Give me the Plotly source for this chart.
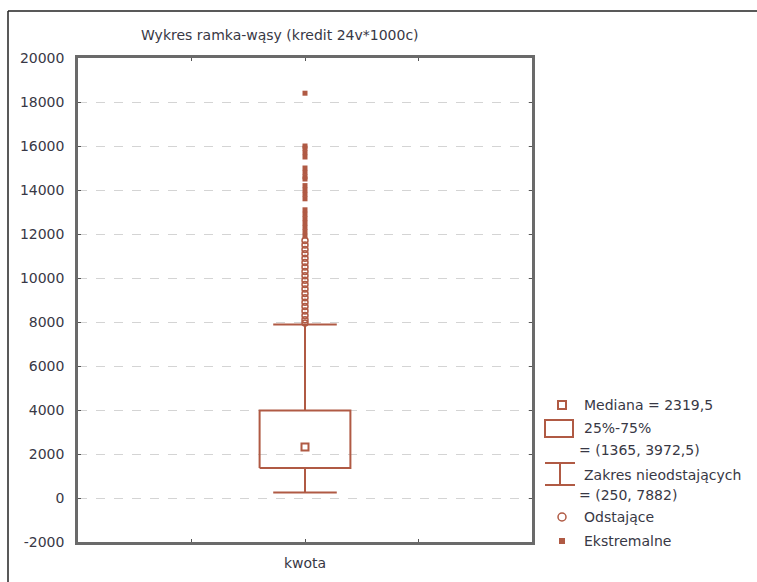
import plotly.graph_objects as go

# ---- data ----
category = ["kwota"]
median = [2319.5]
q1 = [1365]
q3 = [3972.5]
whisker_low = [250]
whisker_high = [7882]
outliers = [7950, 8100, 8300, 8500, 8700, 8900, 9100, 9300, 9500, 9700,
            9900, 10100, 10300, 10500, 10700, 10900, 11100, 11300, 11500, 11700]
extremes = [11900, 12100, 12300, 12500, 12700, 12900, 13100, 13600, 13800,
            14000, 14200, 14500, 14600, 14800, 15000, 15500, 15700, 15900,
            16000, 18400]
y_ticks = [-2000, 0, 2000, 4000, 6000, 8000, 10000, 12000, 14000, 16000, 18000, 20000]
y_tick_labels = ["-2000", "0", "2000", "4000", "6000", "8000", "10000", "12000",
                 "14000", "16000", "18000", "20000"]
title_text = "Wykres ramka-wąsy (kredit 24v*1000c)"
legend_texts = ["Mediana = 2319,5", "25%-75%", "= (1365, 3972,5)",
                "Zakres nieodstających", "= (250, 7882)", "Odstające", "Ekstremalne"]

C = "#b05a44"
TXT = "#383845"
FONT = "DejaVu Sans, Verdana, sans-serif"
xc = 1.0
bw = 0.2
cw = 0.14

fig = go.Figure()
# box rectangle
fig.add_trace(go.Scatter(x=[xc - bw, xc + bw, xc + bw, xc - bw, xc - bw],
                         y=[q1[0], q1[0], q3[0], q3[0], q1[0]],
                         mode="lines", line=dict(color=C, width=2), hoverinfo="skip"))
# whiskers
fig.add_trace(go.Scatter(x=[xc, xc, None, xc, xc, None,
                            xc - cw, xc + cw, None, xc - cw, xc + cw],
                         y=[q3[0], whisker_high[0], None, q1[0], whisker_low[0], None,
                            whisker_high[0], whisker_high[0], None, whisker_low[0], whisker_low[0]],
                         mode="lines", line=dict(color=C, width=2), hoverinfo="skip"))
# median
fig.add_trace(go.Scatter(x=[xc], y=median, mode="markers",
                         marker=dict(symbol="square-open", size=7, color=C, line=dict(width=2))))
# outliers
fig.add_trace(go.Scatter(x=[xc] * len(outliers), y=outliers, mode="markers",
                         marker=dict(symbol="circle-open", size=6, color=C, line=dict(width=1.5))))
# extremes
fig.add_trace(go.Scatter(x=[xc] * len(extremes), y=extremes, mode="markers",
                         marker=dict(symbol="square", size=5, color=C)))

L, R, T, B = 78, 225, 58, 40
PW, PH = 757 - L - R, 582 - T - B


def px(x):
    return (x - L) / PW


def py(y):
    return (582 - B - y) / PH


shapes = []
# outer frame (top and left)
shapes.append(dict(type="line", xref="paper", yref="paper", x0=px(8), x1=px(760),
                   y0=py(11), y1=py(11), line=dict(color="#222", width=1.5)))
shapes.append(dict(type="line", xref="paper", yref="paper", x0=px(8), x1=px(8),
                   y0=py(11), y1=py(590), line=dict(color="#222", width=1.5)))

# legend symbols
shapes.append(dict(type="rect", xref="paper", yref="paper", x0=px(558), x1=px(566),
                   y0=py(401), y1=py(409), line=dict(color=C, width=2)))
shapes.append(dict(type="rect", xref="paper", yref="paper", x0=px(545), x1=px(573),
                   y0=py(420), y1=py(437), line=dict(color=C, width=2)))
shapes.append(dict(type="line", xref="paper", yref="paper", x0=px(545), x1=px(575),
                   y0=py(463), y1=py(463), line=dict(color=C, width=2)))
shapes.append(dict(type="line", xref="paper", yref="paper", x0=px(545), x1=px(575),
                   y0=py(485), y1=py(485), line=dict(color=C, width=2)))
shapes.append(dict(type="line", xref="paper", yref="paper", x0=px(560), x1=px(560),
                   y0=py(463), y1=py(485), line=dict(color=C, width=2)))
shapes.append(dict(type="circle", xref="paper", yref="paper", x0=px(558), x1=px(566),
                   y0=py(513), y1=py(521), line=dict(color=C, width=1.5)))
shapes.append(dict(type="rect", xref="paper", yref="paper", x0=px(559), x1=px(565),
                   y0=py(538), y1=py(544), fillcolor=C, line=dict(color=C, width=0)))

annotations = [dict(text=title_text, xref="paper", yref="paper", x=px(280), y=py(35),
                    showarrow=False, xanchor="center", yanchor="middle",
                    font=dict(size=14, color=TXT, family=FONT))]
leg_pos = [(582, 405), (582, 428), (577, 450), (582, 475), (577, 495), (582, 517), (582, 541)]
for t, (x, y) in zip(legend_texts, leg_pos):
    annotations.append(dict(text=t, xref="paper", yref="paper", x=px(x), y=py(y),
                            showarrow=False, xanchor="left", yanchor="middle",
                            font=dict(size=14, color=TXT, family=FONT)))

fig.update_layout(
    width=757, height=582,
    margin=dict(l=L, r=R, t=T, b=B, pad=0),
    paper_bgcolor="white", plot_bgcolor="white",
    showlegend=False,
    shapes=shapes, annotations=annotations,
    font=dict(family=FONT, size=13, color=TXT),
    xaxis=dict(range=[0, 2], tickvals=[0.5, 1, 1.5], ticktext=["", category[0], ""],
               showgrid=False, zeroline=False, showline=True, mirror="ticks",
               linecolor="#6a6a6a", linewidth=2.5, ticks="inside", ticklen=3,
               tickcolor="#555", ticklabelstandoff=6,
               tickfont=dict(size=14, color=TXT, family=FONT)),
    yaxis=dict(range=[-2000, 20000], tickvals=y_ticks, ticktext=y_tick_labels,
               showgrid=True, gridcolor="#d4d4d4", griddash="dash", gridwidth=1,
               zeroline=False, showline=True, mirror="ticks",
               linecolor="#6a6a6a", linewidth=2.5, ticks="inside", ticklen=3,
               tickcolor="#555", ticklabelstandoff=8,
               tickfont=dict(size=14, color=TXT, family=FONT)),
)

fig.write_html("out.html", config={"displayModeBar": False},
               post_script="document.body.style.margin='0';")
